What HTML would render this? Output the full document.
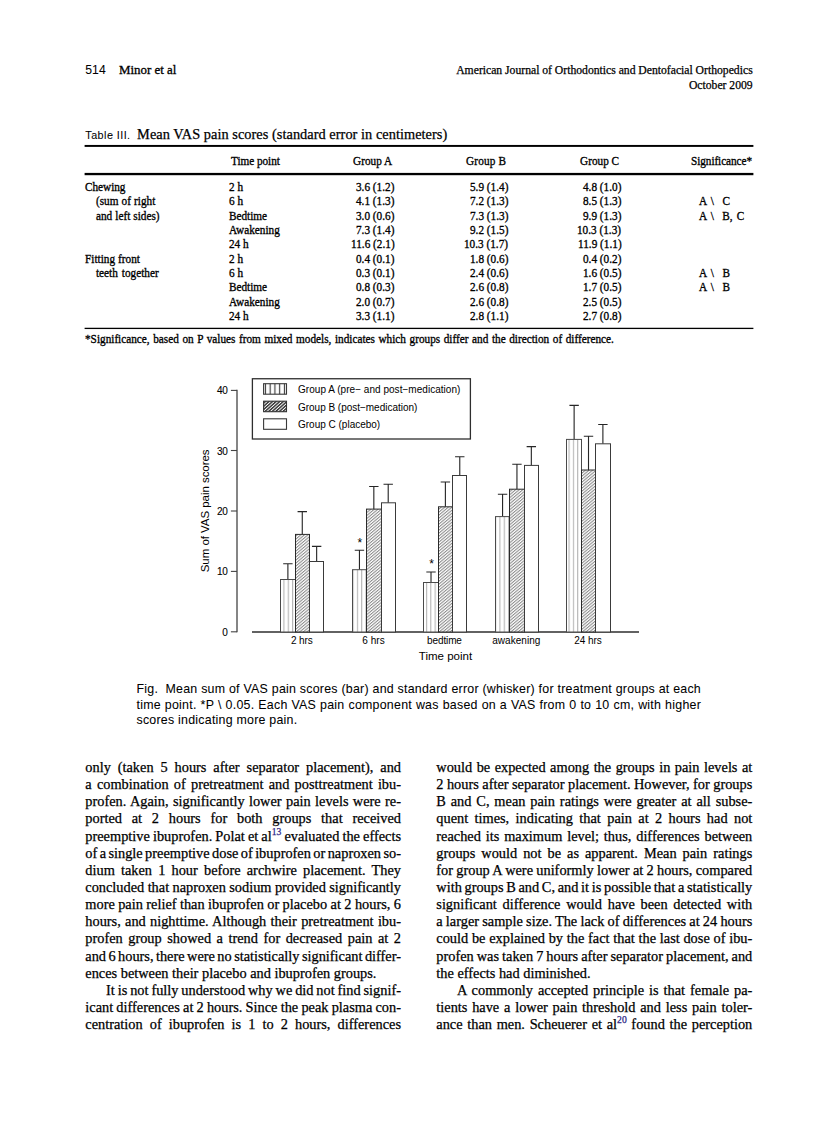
<!DOCTYPE html>
<html><head><meta charset="utf-8"><title>Minor et al - page 514</title>
<style>
html,body{margin:0;padding:0;background:#fff}
body{width:838px;height:1122px;position:relative;overflow:hidden;color:#000}
.t{position:absolute;transform-origin:0 0;white-space:pre;line-height:20px;height:20px}
.s{-webkit-text-stroke:0.25px #000}
.s[style*=scaleX]{-webkit-text-stroke-width:0.32px}
.b{-webkit-text-stroke:0.05px #000}
.s{font-family:"Liberation Serif",serif}
.n{font-family:"Liberation Sans",sans-serif}
.ch{position:absolute;left:0;top:0}
</style></head><body>
<svg class="ch" width="838" height="1122" viewBox="0 0 838 1122">
<defs>
<pattern id="pv" width="4.32" height="8" patternUnits="userSpaceOnUse"><rect width="4.32" height="8" fill="#fff"/><rect x="2.98" width="0.6" height="8" fill="#7a7a7a"/></pattern>
<pattern id="pd" width="2.3" height="2.3" patternUnits="userSpaceOnUse" patternTransform="rotate(-40)"><rect width="2.3" height="2.3" fill="#fff"/><rect y="0" width="2.3" height="1.05" fill="#8c8c8c"/></pattern>
<pattern id="pvl" x="263.05" width="4.75" height="8" patternUnits="userSpaceOnUse"><rect width="4.75" height="8" fill="#fff"/><rect x="1.8" width="1.15" height="8" fill="#3c3c3c"/></pattern>
<pattern id="pdl" width="2.4" height="2.4" patternUnits="userSpaceOnUse" patternTransform="rotate(-42)"><rect width="2.4" height="2.4" fill="#fff"/><rect y="0" width="2.4" height="1.45" fill="#333"/></pattern>
</defs>
<path d="M237 389.85V632.3" stroke="#4a4a4a" stroke-width="1.35" fill="none"/>
<path d="M230.9 390.4H237" stroke="#444" stroke-width="1.1"/>
<path d="M230.9 450.5H237" stroke="#444" stroke-width="1.1"/>
<path d="M230.9 511.0H237" stroke="#444" stroke-width="1.1"/>
<path d="M230.9 571.4H237" stroke="#444" stroke-width="1.1"/>
<path d="M230.9 631.8H237" stroke="#444" stroke-width="1.1"/>
<path d="M252 632H639" stroke="#2e2e2e" stroke-width="1.6"/>
<rect x="252.4" y="378.75" width="218.0" height="60.25" fill="#fff" stroke="#2e2e2e" stroke-width="1.3"/>
<rect x="263.6" y="383.7" width="22.9" height="10.5" fill="url(#pvl)" stroke="#3a3a3a" stroke-width="1.1"/>
<rect x="263.6" y="401.2" width="22.9" height="10.5" fill="url(#pdl)" stroke="#333" stroke-width="1.1"/>
<rect x="263.6" y="418.8" width="22.9" height="10.5" fill="#fff" stroke="#3a3a3a" stroke-width="1.1"/>
<path d="M287.89 579.50V563.70M283.19 563.70H292.59" stroke="#262626" stroke-width="1.12" fill="none"/>
<rect x="280.50" y="579.50" width="15.00" height="52.50" fill="url(#pv)" stroke="#4a4a4a" stroke-width="1"/>
<path d="M302.27 534.40V511.60M297.57 511.60H306.97" stroke="#262626" stroke-width="1.12" fill="none"/>
<rect x="295.50" y="534.40" width="14.00" height="97.60" fill="url(#pd)" stroke="#2a2a2a" stroke-width="1"/>
<path d="M316.65 561.50V546.40M311.95 546.40H321.35" stroke="#262626" stroke-width="1.12" fill="none"/>
<rect x="309.50" y="561.50" width="14.00" height="70.50" fill="#fff" stroke="#3a3a3a" stroke-width="1"/>
<path d="M359.45 569.70V550.20M354.75 550.20H364.15" stroke="#262626" stroke-width="1.12" fill="none"/>
<rect x="352.50" y="569.70" width="14.00" height="62.30" fill="url(#pv)" stroke="#4a4a4a" stroke-width="1"/>
<path d="M373.83 509.10V486.50M369.13 486.50H378.53" stroke="#262626" stroke-width="1.12" fill="none"/>
<rect x="366.50" y="509.10" width="15.00" height="122.90" fill="url(#pd)" stroke="#2a2a2a" stroke-width="1"/>
<path d="M388.21 502.80V484.30M383.51 484.30H392.91" stroke="#262626" stroke-width="1.12" fill="none"/>
<rect x="381.50" y="502.80" width="14.00" height="129.20" fill="#fff" stroke="#3a3a3a" stroke-width="1"/>
<path d="M431.01 582.50V572.00M426.31 572.00H435.71" stroke="#262626" stroke-width="1.12" fill="none"/>
<rect x="423.50" y="582.50" width="15.00" height="49.50" fill="url(#pv)" stroke="#4a4a4a" stroke-width="1"/>
<path d="M445.39 506.80V482.00M440.69 482.00H450.09" stroke="#262626" stroke-width="1.12" fill="none"/>
<rect x="438.50" y="506.80" width="14.00" height="125.20" fill="url(#pd)" stroke="#2a2a2a" stroke-width="1"/>
<path d="M459.77 475.50V456.70M455.07 456.70H464.47" stroke="#262626" stroke-width="1.12" fill="none"/>
<rect x="452.50" y="475.50" width="14.00" height="156.50" fill="#fff" stroke="#3a3a3a" stroke-width="1"/>
<path d="M502.57 516.60V494.30M497.87 494.30H507.27" stroke="#262626" stroke-width="1.12" fill="none"/>
<rect x="495.50" y="516.60" width="14.00" height="115.40" fill="url(#pv)" stroke="#4a4a4a" stroke-width="1"/>
<path d="M516.95 489.20V464.20M512.25 464.20H521.65" stroke="#262626" stroke-width="1.12" fill="none"/>
<rect x="509.50" y="489.20" width="15.00" height="142.80" fill="url(#pd)" stroke="#2a2a2a" stroke-width="1"/>
<path d="M531.33 465.40V446.60M526.63 446.60H536.03" stroke="#262626" stroke-width="1.12" fill="none"/>
<rect x="524.50" y="465.40" width="14.00" height="166.60" fill="#fff" stroke="#3a3a3a" stroke-width="1"/>
<path d="M574.13 439.40V405.40M569.43 405.40H578.83" stroke="#262626" stroke-width="1.12" fill="none"/>
<rect x="566.50" y="439.40" width="15.00" height="192.60" fill="url(#pv)" stroke="#4a4a4a" stroke-width="1"/>
<path d="M588.51 470.00V436.30M583.81 436.30H593.21" stroke="#262626" stroke-width="1.12" fill="none"/>
<rect x="581.50" y="470.00" width="14.00" height="162.00" fill="url(#pd)" stroke="#2a2a2a" stroke-width="1"/>
<path d="M602.89 443.80V424.50M598.19 424.50H607.59" stroke="#262626" stroke-width="1.12" fill="none"/>
<rect x="595.50" y="443.80" width="15.00" height="188.20" fill="#fff" stroke="#3a3a3a" stroke-width="1"/>
<rect x="84.6" y="144.95" width="668.8" height="1.95" fill="#000"/>
<rect x="84.6" y="172.9" width="668.8" height="2.3" fill="#000"/>
<rect x="84.6" y="327.75" width="668.8" height="1.3" fill="#000"/>
</svg>

<div class="t n b" style="left:85.30px;top:60px;font-size:12.2px;letter-spacing:0.028px;">514</div>
<div class="t s" style="left:119.10px;top:60px;font-size:13.5px;letter-spacing:0.007px;transform:scaleX(0.9556);">Minor et al</div>
<div class="t s" style="left:456.20px;top:61px;font-size:11.68px;word-spacing:-0.068px;">American Journal of Orthodontics and Dentofacial Orthopedics</div>
<div class="t s" style="left:688.90px;top:76px;font-size:11.68px;word-spacing:-0.059px;">October 2009</div>
<div class="t n b" style="left:85.30px;top:125px;font-size:10.8px;letter-spacing:0.443px;">Table III.</div>
<div class="t s" style="left:137.10px;top:124px;font-size:14.35px;letter-spacing:0.038px;">Mean VAS pain scores (standard error in centimeters)</div>
<div class="t s" style="left:231.10px;top:151px;font-size:11.8px;letter-spacing:-0.044px;transform:scaleX(0.9534);">Time point</div>
<div class="t s" style="left:353.10px;top:151px;font-size:11.8px;letter-spacing:0.007px;transform:scaleX(0.9534);">Group A</div>
<div class="t s" style="left:466.10px;top:151px;font-size:11.8px;letter-spacing:0.147px;transform:scaleX(0.9534);">Group B</div>
<div class="t s" style="left:580.10px;top:151px;font-size:11.8px;letter-spacing:0.007px;transform:scaleX(0.9534);">Group C</div>
<div class="t s" style="left:690.90px;top:151px;font-size:11.8px;letter-spacing:-0.066px;transform:scaleX(0.9534);">Significance*</div>
<div class="t s" style="left:85.30px;top:177px;font-size:11.8px;letter-spacing:-0.022px;transform:scaleX(0.9534);">Chewing</div>
<div class="t s" style="left:228.70px;top:177px;font-size:11.8px;transform:scaleX(0.9534);">2 h</div>
<div class="t s" style="left:355.97px;top:177px;font-size:11.8px;transform:scaleX(0.9534);">3.6 (1.2)</div>
<div class="t s" style="left:469.57px;top:177px;font-size:11.8px;transform:scaleX(0.9534);">5.9 (1.4)</div>
<div class="t s" style="left:582.97px;top:177px;font-size:11.8px;transform:scaleX(0.9534);">4.8 (1.0)</div>
<div class="t s" style="left:96.30px;top:191px;font-size:11.8px;word-spacing:0.295px;transform:scaleX(0.9534);">(sum of right</div>
<div class="t s" style="left:228.70px;top:191px;font-size:11.8px;transform:scaleX(0.9534);">6 h</div>
<div class="t s" style="left:355.97px;top:191px;font-size:11.8px;transform:scaleX(0.9534);">4.1 (1.3)</div>
<div class="t s" style="left:469.57px;top:191px;font-size:11.8px;transform:scaleX(0.9534);">7.2 (1.3)</div>
<div class="t s" style="left:582.97px;top:191px;font-size:11.8px;transform:scaleX(0.9534);">8.5 (1.3)</div>
<div class="t s" style="left:699.40px;top:191px;font-size:11.8px;word-spacing:1.582px;transform:scaleX(0.9534);">A \  C</div>
<div class="t s" style="left:96.30px;top:206px;font-size:11.8px;word-spacing:0.261px;transform:scaleX(0.9534);">and left sides)</div>
<div class="t s" style="left:228.70px;top:206px;font-size:11.8px;transform:scaleX(0.9534);">Bedtime</div>
<div class="t s" style="left:355.97px;top:206px;font-size:11.8px;transform:scaleX(0.9534);">3.0 (0.6)</div>
<div class="t s" style="left:469.57px;top:206px;font-size:11.8px;transform:scaleX(0.9534);">7.3 (1.3)</div>
<div class="t s" style="left:582.97px;top:206px;font-size:11.8px;transform:scaleX(0.9534);">9.9 (1.3)</div>
<div class="t s" style="left:699.40px;top:206px;font-size:11.8px;word-spacing:1.469px;transform:scaleX(0.9534);">A \  B, C</div>
<div class="t s" style="left:228.70px;top:220px;font-size:11.8px;transform:scaleX(0.9534);">Awakening</div>
<div class="t s" style="left:355.97px;top:220px;font-size:11.8px;transform:scaleX(0.9534);">7.3 (1.4)</div>
<div class="t s" style="left:469.57px;top:220px;font-size:11.8px;transform:scaleX(0.9534);">9.2 (1.5)</div>
<div class="t s" style="left:577.35px;top:220px;font-size:11.8px;transform:scaleX(0.9534);">10.3 (1.3)</div>
<div class="t s" style="left:228.70px;top:234px;font-size:11.8px;transform:scaleX(0.9534);">24 h</div>
<div class="t s" style="left:350.77px;top:234px;font-size:11.8px;transform:scaleX(0.9534);">11.6 (2.1)</div>
<div class="t s" style="left:463.95px;top:234px;font-size:11.8px;transform:scaleX(0.9534);">10.3 (1.7)</div>
<div class="t s" style="left:577.77px;top:234px;font-size:11.8px;transform:scaleX(0.9534);">11.9 (1.1)</div>
<div class="t s" style="left:85.30px;top:249px;font-size:11.8px;word-spacing:0.225px;transform:scaleX(0.9534);">Fitting front</div>
<div class="t s" style="left:228.70px;top:249px;font-size:11.8px;transform:scaleX(0.9534);">2 h</div>
<div class="t s" style="left:355.97px;top:249px;font-size:11.8px;transform:scaleX(0.9534);">0.4 (0.1)</div>
<div class="t s" style="left:469.57px;top:249px;font-size:11.8px;transform:scaleX(0.9534);">1.8 (0.6)</div>
<div class="t s" style="left:582.97px;top:249px;font-size:11.8px;transform:scaleX(0.9534);">0.4 (0.2)</div>
<div class="t s" style="left:96.30px;top:263px;font-size:11.8px;word-spacing:1.234px;transform:scaleX(0.9534);">teeth together</div>
<div class="t s" style="left:228.70px;top:263px;font-size:11.8px;transform:scaleX(0.9534);">6 h</div>
<div class="t s" style="left:355.97px;top:263px;font-size:11.8px;transform:scaleX(0.9534);">0.3 (0.1)</div>
<div class="t s" style="left:469.57px;top:263px;font-size:11.8px;transform:scaleX(0.9534);">2.4 (0.6)</div>
<div class="t s" style="left:582.97px;top:263px;font-size:11.8px;transform:scaleX(0.9534);">1.6 (0.5)</div>
<div class="t s" style="left:699.40px;top:263px;font-size:11.8px;word-spacing:1.512px;transform:scaleX(0.9534);">A \  B</div>
<div class="t s" style="left:228.70px;top:277px;font-size:11.8px;transform:scaleX(0.9534);">Bedtime</div>
<div class="t s" style="left:355.97px;top:277px;font-size:11.8px;transform:scaleX(0.9534);">0.8 (0.3)</div>
<div class="t s" style="left:469.57px;top:277px;font-size:11.8px;transform:scaleX(0.9534);">2.6 (0.8)</div>
<div class="t s" style="left:582.97px;top:277px;font-size:11.8px;transform:scaleX(0.9534);">1.7 (0.5)</div>
<div class="t s" style="left:699.40px;top:277px;font-size:11.8px;word-spacing:1.512px;transform:scaleX(0.9534);">A \  B</div>
<div class="t s" style="left:228.70px;top:292px;font-size:11.8px;transform:scaleX(0.9534);">Awakening</div>
<div class="t s" style="left:355.97px;top:292px;font-size:11.8px;transform:scaleX(0.9534);">2.0 (0.7)</div>
<div class="t s" style="left:469.57px;top:292px;font-size:11.8px;transform:scaleX(0.9534);">2.6 (0.8)</div>
<div class="t s" style="left:582.97px;top:292px;font-size:11.8px;transform:scaleX(0.9534);">2.5 (0.5)</div>
<div class="t s" style="left:228.70px;top:306px;font-size:11.8px;transform:scaleX(0.9534);">24 h</div>
<div class="t s" style="left:355.97px;top:306px;font-size:11.8px;transform:scaleX(0.9534);">3.3 (1.1)</div>
<div class="t s" style="left:469.57px;top:306px;font-size:11.8px;transform:scaleX(0.9534);">2.8 (1.1)</div>
<div class="t s" style="left:582.97px;top:306px;font-size:11.8px;transform:scaleX(0.9534);">2.7 (0.8)</div>
<div class="t s" style="left:85.30px;top:329px;font-size:11.8px;word-spacing:0.799px;transform:scaleX(0.9534);">*Significance, based on P values from mixed models, indicates which groups differ and the direction of difference.</div>
<div class="t n" style="left:216.97px;top:381px;font-size:10px;letter-spacing:-0.4px;-webkit-text-stroke:0.1px #000;">40</div>
<div class="t n" style="left:216.97px;top:442px;font-size:10px;letter-spacing:-0.4px;-webkit-text-stroke:0.1px #000;">30</div>
<div class="t n" style="left:216.97px;top:502px;font-size:10px;letter-spacing:-0.4px;-webkit-text-stroke:0.1px #000;">20</div>
<div class="t n" style="left:216.97px;top:562px;font-size:10px;letter-spacing:-0.4px;-webkit-text-stroke:0.1px #000;">10</div>
<div class="t n" style="left:222.13px;top:623px;font-size:10px;letter-spacing:-0.4px;-webkit-text-stroke:0.1px #000;">0</div>
<div class="t n" style="left:291.00px;top:631px;font-size:10.0px;letter-spacing:-0.109px;">2 hrs</div>
<div class="t n" style="left:362.20px;top:631px;font-size:10.0px;letter-spacing:0.066px;">6 hrs</div>
<div class="t n" style="left:427.10px;top:631px;font-size:10.0px;letter-spacing:-0.130px;">bedtime</div>
<div class="t n" style="left:492.20px;top:631px;font-size:10.0px;letter-spacing:0.048px;">awakening</div>
<div class="t n" style="left:574.20px;top:631px;font-size:10.0px;letter-spacing:-0.039px;">24 hrs</div>
<div class="t n" style="left:418.80px;top:646px;font-size:11.5px;letter-spacing:0.015px;">Time point</div>
<div class="t n" style="left:298.00px;top:380px;font-size:10.0px;letter-spacing:0.036px;">Group A (pre− and post−medication)</div>
<div class="t n" style="left:298.00px;top:398px;font-size:10.0px;letter-spacing:-0.020px;">Group B (post−medication)</div>
<div class="t n" style="left:298.00px;top:415px;font-size:10.0px;letter-spacing:-0.004px;">Group C (placebo)</div>
<div class="t n" style="left:357.56px;top:533px;font-size:12px;">*</div>
<div class="t n" style="left:429.26px;top:554px;font-size:12px;">*</div>
<div class="t n b" style="left:136.50px;top:679px;font-size:12.4px;letter-spacing:0.24px;word-spacing:0.009px;">Fig.  Mean sum of VAS pain scores (bar) and standard error (whisker) for treatment groups at each</div>
<div class="t n b" style="left:136.50px;top:695px;font-size:12.4px;letter-spacing:0.24px;word-spacing:0.305px;">time point. *P \ 0.05. Each VAS pain component was based on a VAS from 0 to 10 cm, with higher</div>
<div class="t n b" style="left:136.50px;top:710px;font-size:12.4px;letter-spacing:0.24px;word-spacing:-0.033px;">scores indicating more pain.</div>
<div class="t s" style="left:85.30px;top:757px;font-size:14.35px;word-spacing:3.337px;">only (taken 5 hours after separator placement), and</div>
<div class="t s" style="left:85.30px;top:774px;font-size:14.35px;word-spacing:1.632px;">a combination of pretreatment and posttreatment ibu-</div>
<div class="t s" style="left:85.30px;top:791px;font-size:14.35px;word-spacing:0.774px;">profen. Again, significantly lower pain levels were re-</div>
<div class="t s" style="left:85.30px;top:808px;font-size:14.35px;word-spacing:6.201px;">ported at 2 hours for both groups that received</div>
<div class="t s" style="left:85.30px;top:826px;font-size:14.35px;word-spacing:-0.500px;">preemptive ibuprofen. Polat et al<span style="font-size:9.6px;position:relative;top:-6.2px;color:#2a1f86;-webkit-text-stroke-color:#2a1f86">13</span> evaluated the effects</div>
<div class="t s" style="left:85.30px;top:843px;font-size:14.35px;word-spacing:-1.170px;">of a single preemptive dose of ibuprofen or naproxen so-</div>
<div class="t s" style="left:85.30px;top:860px;font-size:14.35px;word-spacing:2.578px;">dium taken 1 hour before archwire placement. They</div>
<div class="t s" style="left:85.30px;top:877px;font-size:14.35px;word-spacing:-0.198px;">concluded that naproxen sodium provided significantly</div>
<div class="t s" style="left:85.30px;top:894px;font-size:14.35px;word-spacing:-0.175px;">more pain relief than ibuprofen or placebo at 2 hours, 6</div>
<div class="t s" style="left:85.30px;top:911px;font-size:14.35px;word-spacing:0.697px;">hours, and nighttime. Although their pretreatment ibu-</div>
<div class="t s" style="left:85.30px;top:928px;font-size:14.35px;word-spacing:1.932px;">profen group showed a trend for decreased pain at 2</div>
<div class="t s" style="left:85.30px;top:946px;font-size:14.35px;word-spacing:-1.147px;">and 6 hours, there were no statistically significant differ-</div>
<div class="t s" style="left:85.30px;top:963px;font-size:14.35px;">ences between their placebo and ibuprofen groups.</div>
<div class="t s" style="left:106.10px;top:980px;font-size:14.35px;word-spacing:-0.710px;">It is not fully understood why we did not find signif-</div>
<div class="t s" style="left:85.30px;top:997px;font-size:14.35px;word-spacing:-0.386px;">icant differences at 2 hours. Since the peak plasma con-</div>
<div class="t s" style="left:85.30px;top:1014px;font-size:14.35px;word-spacing:3.496px;">centration of ibuprofen is 1 to 2 hours, differences</div>
<div class="t s" style="left:436.30px;top:757px;font-size:14.35px;word-spacing:0.898px;">would be expected among the groups in pain levels at</div>
<div class="t s" style="left:436.30px;top:774px;font-size:14.35px;word-spacing:-0.123px;">2 hours after separator placement. However, for groups</div>
<div class="t s" style="left:436.30px;top:791px;font-size:14.35px;word-spacing:1.289px;">B and C, mean pain ratings were greater at all subse-</div>
<div class="t s" style="left:436.30px;top:808px;font-size:14.35px;word-spacing:2.799px;">quent times, indicating that pain at 2 hours had not</div>
<div class="t s" style="left:436.30px;top:826px;font-size:14.35px;word-spacing:1.263px;">reached its maximum level; thus, differences between</div>
<div class="t s" style="left:436.30px;top:843px;font-size:14.35px;word-spacing:2.404px;">groups would not be as apparent. Mean pain ratings</div>
<div class="t s" style="left:436.30px;top:860px;font-size:14.35px;word-spacing:-0.297px;">for group A were uniformly lower at 2 hours, compared</div>
<div class="t s" style="left:436.30px;top:877px;font-size:14.35px;word-spacing:-0.901px;">with groups B and C, and it is possible that a statistically</div>
<div class="t s" style="left:436.30px;top:894px;font-size:14.35px;word-spacing:2.128px;">significant difference would have been detected with</div>
<div class="t s" style="left:436.30px;top:911px;font-size:14.35px;word-spacing:-0.383px;">a larger sample size. The lack of differences at 24 hours</div>
<div class="t s" style="left:436.30px;top:928px;font-size:14.35px;word-spacing:0.156px;">could be explained by the fact that the last dose of ibu-</div>
<div class="t s" style="left:436.30px;top:946px;font-size:14.35px;word-spacing:-0.576px;">profen was taken 7 hours after separator placement, and</div>
<div class="t s" style="left:436.30px;top:963px;font-size:14.35px;">the effects had diminished.</div>
<div class="t s" style="left:457.10px;top:980px;font-size:14.35px;word-spacing:1.375px;">A commonly accepted principle is that female pa-</div>
<div class="t s" style="left:436.30px;top:997px;font-size:14.35px;word-spacing:1.196px;">tients have a lower pain threshold and less pain toler-</div>
<div class="t s" style="left:436.30px;top:1014px;font-size:14.35px;word-spacing:1.111px;">ance than men. Scheuerer et al<span style="font-size:9.6px;position:relative;top:-6.2px;color:#2a1f86;-webkit-text-stroke-color:#2a1f86">20</span> found the perception</div>
<div class="t n" style="left:0;top:-13.98px;font-size:11.5px;transform-origin:0 13.98px;transform:translate(209.3px,572.3px) rotate(-90deg);letter-spacing:-0.043px">Sum of VAS pain scores</div>
</body></html>
